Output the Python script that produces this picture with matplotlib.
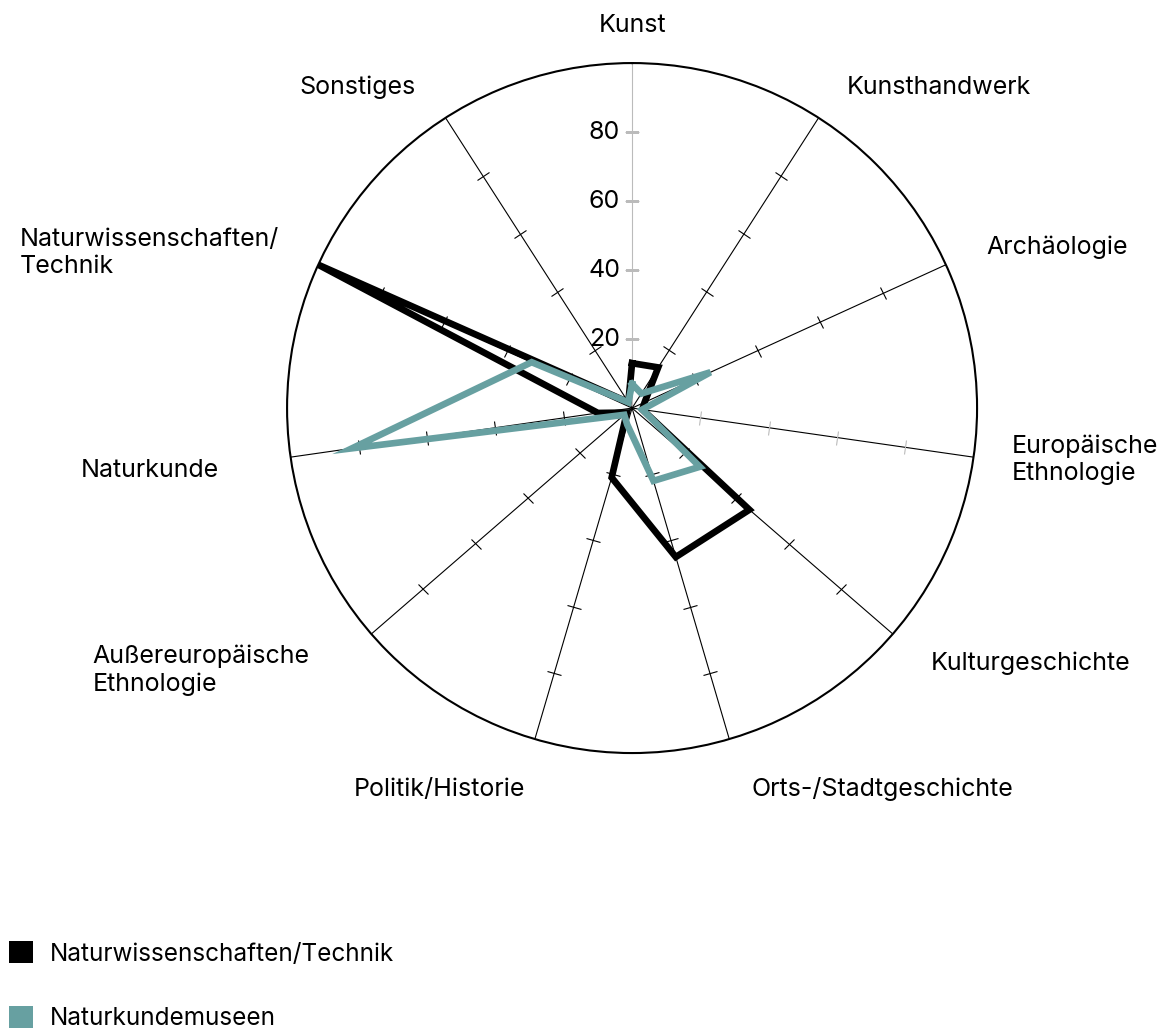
import numpy as np
import matplotlib
matplotlib.use("Agg")
import matplotlib.pyplot as plt
from matplotlib.markers import MarkerStyle
from matplotlib.transforms import Affine2D
from matplotlib.patches import Patch

plt.rcParams['font.family'] = ['Inter', 'DejaVu Sans']

kategorien = ["Kunst", "Kunsthandwerk", "Archäologie", "Europäische\nEthnologie",
              "Kulturgeschichte", "Orts-/Stadtgeschichte", "Politik/Historie",
              "Außereuropäische\nEthnologie", "Naturkunde",
              "Naturwissenschaften/\nTechnik", "Sonstiges"]
technik = [13, 14, 4, 3, 45, 45, 21, 2, 10, 100, 2]
naturkunde = [7, 5, 25, 3, 26, 22, 5, 3, 82, 32, 2]
serien = ["Naturwissenschaften/Technik", "Naturkundemuseen"]
farben = ["#000000", "#67a0a1"]
skala = [20, 40, 60, 80]

# kleine Verschiebungen der Beschriftungen (Pixel)
versatz_x = [0, 4, 0, -6, 4, 10, 3, -28, -27, 2, -6]
versatz_y = [-7, -7, -1, 4, 0, -7, -7, -7, -7, -7, -7]

n = len(kategorien)
winkel = np.arange(n) * 2 * np.pi / n

fig = plt.figure(figsize=(11.65, 10.32), dpi=100)
ax = fig.add_axes([0.2464, 0.2703, 0.5923, 0.6686], projection="polar")
ax.set_theta_zero_location("N")
ax.set_theta_direction(-1)
ax.set_ylim(0, 100)
ax.grid(False)
ax.set_xticks([])
ax.set_yticks([])
ax.spines["polar"].set_linewidth(1.5)

# Speichen mit Strichen
for i, w in enumerate(winkel):
    farbe = "#bbbbbb" if i == 0 else "black"
    tickfarbe = "#bbbbbb" if i in (0, 3) else "black"
    ax.plot([w, w], [0, 100], color=farbe, lw=0.8, zorder=1)
    m = MarkerStyle("|", transform=Affine2D().rotate_deg(90 - np.degrees(w)))
    ax.plot([w] * len(skala), skala, ls="none", marker=m, markersize=10,
            markeredgewidth=0.8, color=tickfarbe, zorder=1)

for s in skala:
    ax.annotate(str(s), (0, s), xytext=(-12, 0), textcoords="offset pixels",
                ha="right", va="center", fontsize=18)

# Daten
for werte, farbe in zip([technik, naturkunde], farben):
    w = np.append(winkel, winkel[0])
    v = np.append(werte, werte[0])
    ax.plot(w, v, color=farbe, lw=4.8, zorder=3, solid_joinstyle="miter")

# Beschriftungen
for name, w, dx, dy in zip(kategorien, winkel, versatz_x, versatz_y):
    s = np.sin(w)
    if s > 0.1:
        ha = "left"
    elif s < -0.1:
        ha = "right"
    else:
        ha = "center"
    ax.annotate(name, (w, 113), xytext=(dx, dy), textcoords="offset pixels",
                ha=ha, va="center", fontsize=18, multialignment="left",
                annotation_clip=False)

handles = [Patch(facecolor=f, edgecolor="none") for f in farben]
fig.legend(handles, serien, loc="lower left", bbox_to_anchor=(-0.007, -0.015),
           frameon=False, fontsize=17.5, handlelength=1.0, handleheight=1.0,
           handletextpad=0.68, labelspacing=1.67, borderaxespad=0.3)

fig.savefig("out.png", dpi=100)
